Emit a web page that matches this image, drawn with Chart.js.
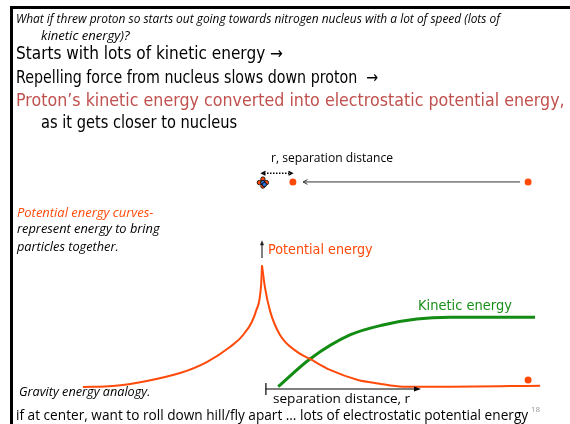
<!DOCTYPE html>
<html>
<head>
<meta charset="utf-8">
<script src="https://cdn.jsdelivr.net/npm/chart.js@4"></script>
<style>
  body { margin: 0; background: #fff; }
  #page { position: relative; width: 570px; height: 424px; overflow: hidden; background: #fff; }
  #frame { position: absolute; left: 10px; top: 6px; width: 570px; height: 430px; border-left: 3px solid #000; border-top: 3px solid #000; box-sizing: border-box; }
  canvas { position: absolute; left: 0; top: 0; }
  .t { position: absolute; white-space: nowrap; transform-origin: 0 50%; line-height: 1; }
  .comic { font-family: "DejaVu Sans", sans-serif; font-size: 17px; }
  .cal { font-family: "Open Sans", sans-serif; }
  .it { font-style: italic; }
</style>
</head>
<body>
<div id="page">
  <div id="frame"></div>
  <canvas id="diagram" width="570" height="424"></canvas>

  <div class="t cal it" style="font-size:12.5px" data-x="16" data-y="19" data-w="484">What if threw proton so starts out going towards nitrogen nucleus with a lot of speed (lots of</div>
  <div class="t cal it" style="font-size:12.5px" data-x="41" data-y="36" data-w="89">kinetic energy)?</div>
  <div class="t comic" data-x="16" data-y="53" data-w="267">Starts with lots of kinetic energy →</div>
  <div class="t comic" data-x="16" data-y="77" data-w="362">Repelling force from nucleus slows down proton&nbsp; →</div>
  <div class="t comic" style="color:#c0504d" data-x="16" data-y="100" data-w="549">Proton’s kinetic energy converted into electrostatic potential energy,</div>
  <div class="t comic" data-x="41" data-y="122" data-w="196">as it gets closer to nucleus</div>

  <div class="t cal" style="font-size:12px" data-x="271" data-y="158" data-w="122">r, separation distance</div>

  <div class="t cal it" style="font-size:12px;color:#ff4a0a" data-x="17" data-y="213" data-w="136">Potential energy curves-</div>
  <div class="t cal it" style="font-size:12px" data-x="17" data-y="229" data-w="143">represent energy to bring</div>
  <div class="t cal it" style="font-size:12px" data-x="17" data-y="247" data-w="102">particles together.</div>

  <div class="t comic" style="font-size:14px;color:#ff4a0a" data-x="268" data-y="249" data-w="105">Potential energy</div>
  <div class="t comic" style="font-size:14px;color:#1a8f1a" data-x="418" data-y="305" data-w="94">Kinetic energy</div>

  <div class="t cal it" style="font-size:12px" data-x="19" data-y="392" data-w="131">Gravity energy analogy.</div>
  <div class="t cal" style="font-size:13px" data-x="273" data-y="398" data-w="137">separation distance, r</div>
  <div class="t cal" style="font-size:14px" data-x="16" data-y="415" data-w="512">if at center, want to roll down hill/fly apart … lots of electrostatic potential energy</div>
  <div class="t cal" style="font-size:8px;color:#999" data-x="531" data-y="409" data-w="9">18</div>
</div>

<script>
// separation distance r (x) and energy (y), arbitrary units
const potentialLeft = [
  {x: -5.97, y: 0.16}, {x: -4.97, y: 0.24}, {x: -3.84, y: 0.65}, {x: -2.73, y: 1.29},
  {x: -1.84, y: 2.18}, {x: -1.07, y: 3.4}, {x: -0.63, y: 4.37}, {x: -0.2, y: 6.3},
  {x: -0.03, y: 8.4}, {x: 0, y: 10.0}
];
const potentialRight = [
  {x: 0, y: 10.0}, {x: 0.1, y: 8.2}, {x: 0.27, y: 6.3}, {x: 0.6, y: 4.37},
  {x: 1.17, y: 3.0}, {x: 1.6, y: 2.43}, {x: 2.27, y: 1.54}, {x: 3.2, y: 0.73},
  {x: 3.87, y: 0.45}, {x: 4.7, y: 0.19}, {x: 6.27, y: 0.19}, {x: 9.27, y: 0.27}
];
const kinetic = [
  {x: 0.54, y: 0.19}, {x: 1.6, y: 2.43}, {x: 2.93, y: 4.37}, {x: 4.03, y: 5.18},
  {x: 5.16, y: 5.66}, {x: 6.27, y: 5.8}, {x: 9.1, y: 5.8}
];
const protonOnCurve = [{x: 8.87, y: 0.73}];
const protonTrack = [{x: 1.03, y: 16.75}, {x: 8.87, y: 16.75}];
const nucleus = {x: 0.03, y: 16.7};
const approachArrow = [{x: 8.6, y: 16.75}, {x: 1.37, y: 16.75}];
const gapArrow = [{x: 0, y: 17.45}, {x: 1.0, y: 17.45}];
const rAxis = [{x: 0.13, y: 0}, {x: 5.2, y: 0}];
const energyAxis = [{x: 0, y: 10.6}, {x: 0, y: 11.8}];

const ORANGE = "#ff4a0a";
const GREEN = "#138c13";

function arrowHead(ctx, x1, y1, x2, y2, size) {
  const a = Math.atan2(y2 - y1, x2 - x1);
  ctx.beginPath();
  ctx.moveTo(x2 - size * Math.cos(a - 0.5), y2 - size * Math.sin(a - 0.5));
  ctx.lineTo(x2, y2);
  ctx.lineTo(x2 - size * Math.cos(a + 0.5), y2 - size * Math.sin(a + 0.5));
  ctx.stroke();
}

const extras = {
  id: "extras",
  afterDatasetsDraw(chart) {
    const ctx = chart.ctx;
    const xs = chart.scales.x, ys = chart.scales.y;
    const px = p => [xs.getPixelForValue(p.x), ys.getPixelForValue(p.y)];
    ctx.save();

    // r axis with tick and arrow
    let [ax1, ay] = px(rAxis[0]);
    let [ax2] = px(rAxis[1]);
    ctx.strokeStyle = "#000";
    ctx.lineWidth = 1.2;
    ctx.beginPath(); ctx.moveTo(ax1, ay); ctx.lineTo(ax2, ay); ctx.stroke();
    ctx.beginPath(); ctx.moveTo(ax1, ay - 6); ctx.lineTo(ax1, ay + 6); ctx.stroke();
    ctx.fillStyle = "#000";
    ctx.beginPath(); ctx.moveTo(ax2 + 3, ay); ctx.lineTo(ax2 - 4, ay - 2.5); ctx.lineTo(ax2 - 4, ay + 2.5); ctx.fill();

    // energy axis arrow
    let [ex, ey1] = px(energyAxis[0]);
    let [, ey2] = px(energyAxis[1]);
    ctx.strokeStyle = "#555";
    ctx.lineWidth = 1.5;
    ctx.beginPath(); ctx.moveTo(ex, ey1); ctx.lineTo(ex, ey2); ctx.stroke();
    ctx.fillStyle = "#222";
    ctx.beginPath(); ctx.moveTo(ex, ey2 - 3); ctx.lineTo(ex - 2, ey2 + 2); ctx.lineTo(ex + 2, ey2 + 2); ctx.fill();

    // approach arrow
    let [p1x, p1y] = px(approachArrow[0]);
    let [p2x] = px(approachArrow[1]);
    ctx.strokeStyle = "#333";
    ctx.lineWidth = 1;
    ctx.beginPath(); ctx.moveTo(p1x, p1y); ctx.lineTo(p2x, p1y); ctx.stroke();
    arrowHead(ctx, p1x, p1y, p2x, p1y, 5);

    // dotted double arrow for r
    let [g1x, gy] = px(gapArrow[0]);
    let [g2x] = px(gapArrow[1]);
    ctx.strokeStyle = "#000";
    ctx.lineWidth = 1.5;
    ctx.setLineDash([1.5, 1.5]);
    ctx.beginPath(); ctx.moveTo(g1x + 2, gy); ctx.lineTo(g2x - 2, gy); ctx.stroke();
    ctx.setLineDash([]);
    arrowHead(ctx, g2x - 2, gy, g1x, gy, 4);
    arrowHead(ctx, g1x + 2, gy, g2x, gy, 4);

    // nucleus
    const [nx, ny] = px(nucleus);
    const balls = [[0, -3.5, ORANGE], [-3.5, 0, ORANGE], [3.5, 0, ORANGE], [0, 3.5, ORANGE], [0, 0, "#2e6fd6"], [1.5, 2, "#2e6fd6"]];
    ctx.lineWidth = 0.8;
    ctx.strokeStyle = "#000";
    balls.forEach(([dx, dy, c]) => {
      ctx.fillStyle = c;
      ctx.beginPath(); ctx.arc(nx + dx, ny + dy, 2.2, 0, Math.PI * 2); ctx.fill(); ctx.stroke();
    });
    ctx.restore();
  }
};

new Chart(document.getElementById("diagram"), {
  type: "scatter",
  data: {
    datasets: [
      { data: potentialLeft, showLine: true, borderColor: ORANGE, borderWidth: 2, pointRadius: 0, cubicInterpolationMode: "monotone" },
      { data: potentialRight, showLine: true, borderColor: ORANGE, borderWidth: 2, pointRadius: 0, cubicInterpolationMode: "monotone" },
      { data: kinetic, showLine: true, borderColor: GREEN, borderWidth: 3, pointRadius: 0, cubicInterpolationMode: "monotone" },
      { data: protonOnCurve, backgroundColor: ORANGE, borderWidth: 0, pointRadius: 3.5, clip: false },
      { data: protonTrack, backgroundColor: ORANGE, borderWidth: 0, pointRadius: 3.5, clip: false }
    ]
  },
  options: {
    responsive: false,
    animation: false,
    events: [],
    // chart area spans from the r axis (y = 0) up past the top row of the sketch
    layout: { padding: { left: 82, right: 23, top: 166.5, bottom: 35 } },
    plugins: { legend: { display: false }, tooltip: { enabled: false } },
    scales: {
      x: { type: "linear", min: -6, max: 9.5, display: false },
      y: { type: "linear", min: 0, max: 18, display: false }
    }
  },
  plugins: [extras]
});

// place text labels and squeeze them to the measured widths
document.querySelectorAll(".t").forEach(el => {
  const w = el.offsetWidth;
  const target = +el.dataset.w;
  el.style.left = el.dataset.x + "px";
  el.style.top = el.dataset.y + "px";
  el.style.transform = "translateY(-50%) scaleX(" + (target / w).toFixed(3) + ")";
});
</script>
</body>
</html>
